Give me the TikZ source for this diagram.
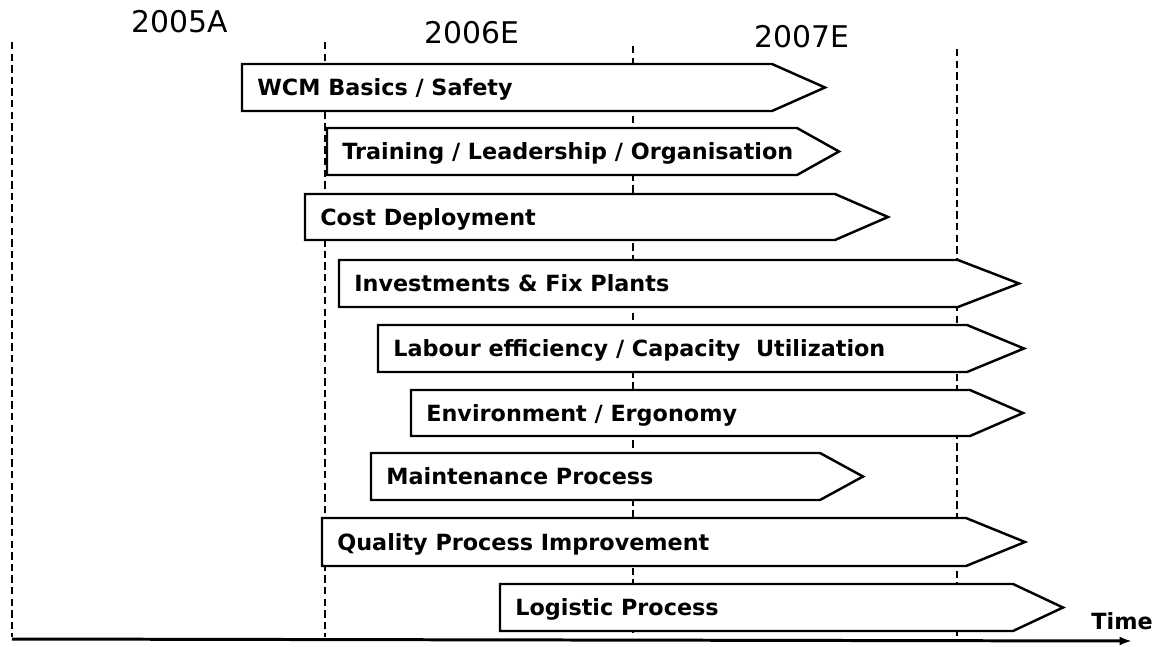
\documentclass[tikz,border=0pt]{standalone}
\usepackage{fontspec}
\setmainfont{DejaVu Sans}
\usetikzlibrary{arrows.meta}

\tikzset{
  bar/.style={draw=black,line width=1.4pt,fill=white,line join=miter},
  barlbl/.style={anchor=base west,inner sep=0pt,font=\bfseries\fontsize{12.7}{15}\selectfont},
  yearlbl/.style={inner sep=0pt,font=\fontsize{17}{20}\selectfont},
  yeargrid/.style={dash pattern=on 4.2pt off 2.4pt,line width=1.6pt}
}

\begin{document}
\begin{tikzpicture}[x=0.02cm,y=-0.02cm,>=Latex]
\useasboundingbox (0,0) rectangle (1163,646);
% year grid
\draw[yeargrid] (12,42) -- (12,637);
\draw[yeargrid] (325,42) -- (325,637);
\draw[yeargrid] (633,46) -- (633,637);
\draw[yeargrid] (957,49) -- (957,637);
\node[yearlbl] (y05) at (180,22) {2005A};
\node[yearlbl] (y06) at (472,33) {2006E};
\node[yearlbl] (y07) at (802,37) {2007E};
% activity bars
\draw[bar] (242,64) -- (772,64) -- (825,87.5) -- (772,111) -- (242,111) -- cycle;
\node[barlbl] (wcm) at (257,95.5) {WCM Basics / Safety};
\draw[bar] (327,128) -- (797,128) -- (839,151.5) -- (797,175) -- (327,175) -- cycle;
\node[barlbl] (trn) at (342,159.5) {Training / Leadership / Organisation};
\draw[bar] (305,194) -- (835,194) -- (888,217) -- (835,240) -- (305,240) -- cycle;
\node[barlbl] (cost) at (320,225) {Cost Deployment};
\draw[bar] (339,260) -- (958,260) -- (1019,283.5) -- (958,307) -- (339,307) -- cycle;
\node[barlbl] (inv) at (354,291.5) {Investments \& Fix Plants};
\draw[bar] (378,325) -- (967,325) -- (1024,348.5) -- (967,372) -- (378,372) -- cycle;
\node[barlbl] (lab) at (393,356.5) {Labour efficiency / Capacity\ \ Utilization};
\draw[bar] (411,390) -- (970,390) -- (1023,413) -- (970,436) -- (411,436) -- cycle;
\node[barlbl] (env) at (426,421) {Environment / Ergonomy};
\draw[bar] (371,453) -- (820,453) -- (863,476.5) -- (820,500) -- (371,500) -- cycle;
\node[barlbl] (mnt) at (386,484.5) {Maintenance Process};
\draw[bar] (322,518) -- (966,518) -- (1025,542) -- (966,566) -- (322,566) -- cycle;
\node[barlbl] (qual) at (337,550) {Quality Process Improvement};
\draw[bar] (500,584) -- (1013,584) -- (1063,607.5) -- (1013,631) -- (500,631) -- cycle;
\node[barlbl] (logi) at (515,615.5) {Logistic Process};
% time axis
\coordinate (t0) at (12,639);
\coordinate (t1) at (1132,641);
\draw[line width=1.7pt,-{Latex[length=7pt,width=5pt]}] (t0) -- (t1);
\node[barlbl,anchor=center] (time) at (1122,621) {Time};
\end{tikzpicture}
\end{document}
